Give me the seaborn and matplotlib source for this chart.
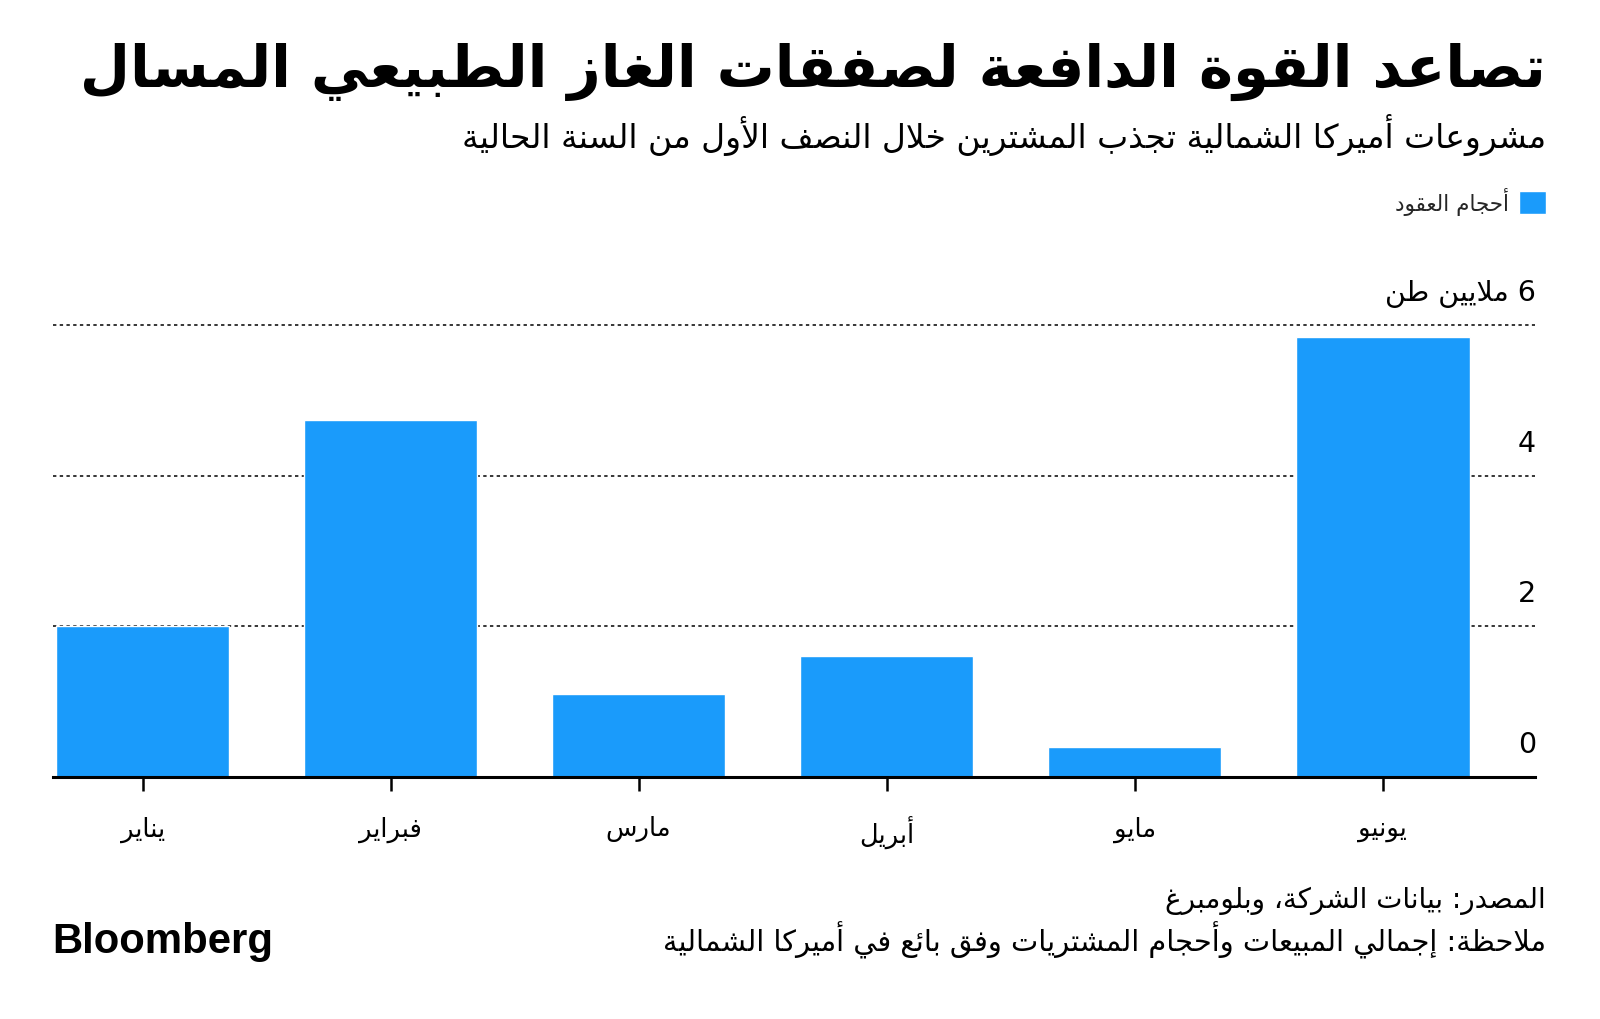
import re
import numpy as np
import pandas as pd
import matplotlib
matplotlib.use("Agg")
import matplotlib.pyplot as plt
import matplotlib.transforms as mtransforms
import seaborn as sns

# ---------------- data ----------------
months = ["يناير", "فبراير", "مارس", "أبريل", "مايو", "يونيو"]
volumes = [2.0, 4.74, 1.10, 1.60, 0.39, 5.85]
y_ticks = [0, 2, 4, 6]
y_tick_labels = ["0", "2", "4", "6 ملايين طن"]
title = "تصاعد القوة الدافعة لصفقات الغاز الطبيعي المسال"
subtitle = "مشروعات أميركا الشمالية تجذب المشترين خلال النصف الأول من السنة الحالية"
legend_label = "أحجام العقود"
source = "المصدر: بيانات الشركة، وبلومبرغ"
note = "ملاحظة: إجمالي المبيعات وأحجام المشتريات وفق بائع في أميركا الشمالية"
brand = "Bloomberg"

BLUE = "#1a9bfb"

# ---------------- Arabic shaping (presentation forms + RTL order) ----------------
_DUAL = {0x0626: 0xFE89, 0x0628: 0xFE8F, 0x062A: 0xFE95, 0x062B: 0xFE99, 0x062C: 0xFE9D,
         0x062D: 0xFEA1, 0x062E: 0xFEA5, 0x0633: 0xFEB1, 0x0634: 0xFEB5, 0x0635: 0xFEB9,
         0x0636: 0xFEBD, 0x0637: 0xFEC1, 0x0638: 0xFEC5, 0x0639: 0xFEC9, 0x063A: 0xFECD,
         0x0641: 0xFED1, 0x0642: 0xFED5, 0x0643: 0xFED9, 0x0644: 0xFEDD, 0x0645: 0xFEE1,
         0x0646: 0xFEE5, 0x0647: 0xFEE9, 0x064A: 0xFEF1}
_RIGHT = {0x0622: 0xFE81, 0x0623: 0xFE83, 0x0624: 0xFE85, 0x0625: 0xFE87, 0x0627: 0xFE8D,
          0x0629: 0xFE93, 0x062F: 0xFEA9, 0x0630: 0xFEAB, 0x0631: 0xFEAD, 0x0632: 0xFEAF,
          0x0648: 0xFEED, 0x0649: 0xFEEF}
_LAMALEF = {0x0622: 0xFEF5, 0x0623: 0xFEF7, 0x0625: 0xFEF9, 0x0627: 0xFEFB}


def _jtype(tok):
    kind, c = tok
    if kind == "LA":
        return "R"
    if c in _DUAL:
        return "D"
    if c in _RIGHT:
        return "R"
    if c == 0x0621:
        return "U"
    return None


def ar(s):
    toks = []
    i = 0
    while i < len(s):
        c = ord(s[i])
        if c == 0x0644 and i + 1 < len(s) and ord(s[i + 1]) in _LAMALEF:
            toks.append(("LA", ord(s[i + 1])))
            i += 2
        else:
            toks.append(("C", c))
            i += 1
    out = []
    for k, t in enumerate(toks):
        jt = _jtype(t)
        prev = _jtype(toks[k - 1]) if k > 0 else None
        nxt = _jtype(toks[k + 1]) if k + 1 < len(toks) else None
        jp = jt in ("D", "R") and prev == "D"
        jn = jt == "D" and nxt in ("D", "R")
        kind, c = t
        if kind == "LA":
            out.append(chr(_LAMALEF[c] + (1 if jp else 0)))
        elif jt == "D":
            off = 3 if (jp and jn) else 1 if jp else 2 if jn else 0
            out.append(chr(_DUAL[c] + off))
        elif jt == "R":
            out.append(chr(_RIGHT[c] + (1 if jp else 0)))
        elif jt == "U":
            out.append("\uFE80")
        else:
            out.append(chr(c))
    shaped = "".join(out)
    parts = re.findall(r"[0-9A-Za-z]+|[^0-9A-Za-z]+", shaped)
    return "".join(p if re.match(r"[0-9A-Za-z]", p) else p[::-1] for p in reversed(parts))


# ---------------- figure ----------------
sns.set_style("white")
plt.rcParams["font.family"] = ["DejaVu Sans"]

W, H = 1600, 1020
fig = plt.figure(figsize=(W / 100, H / 100), dpi=100)

y_top = 6.02
bottom_px, unit_px = 777.6, 75.2
top_px = bottom_px - y_top * unit_px
left_px, right_px = 53.3, 1535.0
ax = fig.add_axes([left_px / W, 1 - bottom_px / H, (right_px - left_px) / W, (bottom_px - top_px) / H])

df = pd.DataFrame({"month": [ar(m) for m in months], "volume": volumes})
sns.barplot(data=df, x="month", y="volume", color=BLUE, saturation=1, width=0.7,
            ax=ax, label=ar(legend_label), zorder=2)

ax.set_xlim(-0.36, 5.614)
ax.set_ylim(0, y_top)
ax.set_xlabel("")
ax.set_ylabel("")

for s in ["top", "left", "right"]:
    ax.spines[s].set_visible(False)
ax.spines["bottom"].set_color("black")
ax.spines["bottom"].set_linewidth(2.2)
ax.spines["bottom"].set_zorder(3)

ax.set_axisbelow(True)
ax.grid(axis="y", color="black", linestyle=(0, (2.2, 2.2)), linewidth=1.1)
ax.grid(axis="x", visible=False)

ax.tick_params(axis="x", length=10, width=1.8, color="black", pad=18, labelsize=18.5,
               labelcolor="black", bottom=True)

ax.yaxis.tick_right()
ax.set_yticks(y_ticks, labels=[ar(l) for l in y_tick_labels])
ax.tick_params(axis="y", length=0, pad=0, labelsize=20.5, labelcolor="black")
offset = mtransforms.ScaledTranslation(0.01, 0.25, fig.dpi_scale_trans)
for lab in ax.get_yticklabels():
    lab.set_ha("right")
    lab.set_va("baseline")
    lab.set_transform(lab.get_transform() + offset)

# legend
handles, labels = ax.get_legend_handles_labels()
ax.legend(handles[:1], labels[:1], markerfirst=False, frameon=False, loc="upper right",
          bbox_to_anchor=(1546 / W, 1 - 188 / H), bbox_transform=fig.transFigure,
          fontsize=15.5, handlelength=1.25, handleheight=1.25, borderpad=0, borderaxespad=0,
          handletextpad=0.45)

# texts
fig.text(1546 / W, 1 - 72 / H, ar(title), ha="right", va="center", fontsize=41.6,
         fontweight="bold", color="black")
fig.text(1546 / W, 1 - 135 / H, ar(subtitle), ha="right", va="center", fontsize=23.7,
         color="black")
fig.text(1546 / W, 1 - 901 / H, ar(source), ha="right", va="center", fontsize=20,
         color="black")
fig.text(1546 / W, 1 - 940 / H, ar(note), ha="right", va="center", fontsize=20.8,
         color="black")
fig.text(52 / W, 1 - 953 / H, brand, ha="left", va="baseline", fontsize=30.2,
         fontweight="bold", family=["Liberation Sans", "DejaVu Sans"], color="black")

fig.savefig("out.png", dpi=100, facecolor="white")
